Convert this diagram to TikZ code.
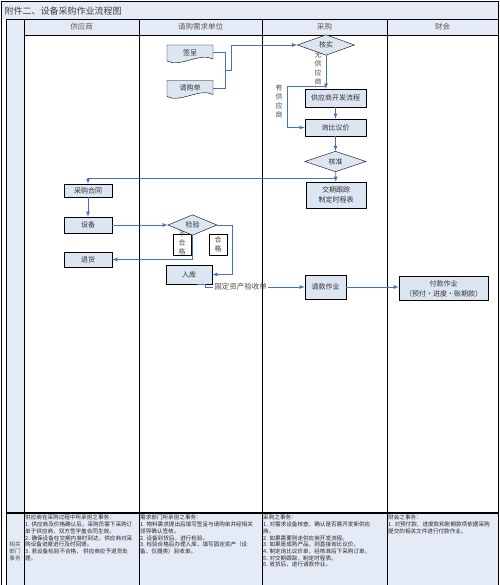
\documentclass[tikz,border=0pt]{standalone}
\usepackage{fontspec}
\setmainfont{Noto Sans CJK SC}
\usepackage{xcolor}
\usepackage{tikz}
\usetikzlibrary{positioning,shapes.geometric}
\XeTeXlinebreaklocale "zh"
\XeTeXlinebreakskip=0pt plus 1pt

\definecolor{paleblue}{RGB}{228,235,246}
\definecolor{boxblue}{RGB}{220,229,242}
\definecolor{lineblue}{RGB}{70,114,196}

\begin{document}
\begin{tikzpicture}[x=1pt,y=-1pt,font=\fontsize{7}{10}\selectfont]
	\tikzset{box/.style={draw,fill=boxblue,text=black!80,inner sep=1pt,align=center,minimum width=48pt}}
	\tikzset{choice/.style={diamond,draw,fill=boxblue,text=black!80,inner sep=0pt}}
	\tikzset{doc/.style={inner sep=0pt,minimum width=46pt,minimum height=15pt,text=black!80}}
	\tikzset{gate/.style={draw,fill=white,minimum width=18pt,minimum height=21pt,inner sep=0pt,align=center,text=black!75,font=\fontsize{7}{9}\selectfont}}
	\tikzset{vtext/.style={align=center,inner sep=0pt,text=black!70,font=\fontsize{7}{9}\selectfont}}
	\tikzset{flow/.style={draw=lineblue,line width=0.8pt,-latex}}
	\tikzset{link/.style={draw=lineblue,line width=0.8pt}}
	\tikzset{lane/.style={text=black!65,font=\fontsize{7.5}{9}\selectfont}}
	\tikzset{duty/.style={anchor=north west,align=left,inner sep=0pt,text=black!85,font=\fontsize{5.6}{6.7}\selectfont}}

	\useasboundingbox (0,0) rectangle (499,585);

% frame and lanes
	\fill[paleblue] (1,2) rectangle (498,19);
	\fill[paleblue] (6,19) rectangle (498,35);
	\fill[paleblue] (6,35) rectangle (24,513);
	\fill[paleblue] (6,514) rectangle (498,585);
	\draw[line width=1.2pt] (1,1.5) -- (498,1.5);
	\draw[line width=0.8pt] (1,1) -- (1,585) (498,1) -- (498,585);
	\draw (6,19) -- (498,19) (24,35) -- (498,35);
	\foreach \x in {6,24,139,262,387}
		\draw (\x,19) -- (\x,585);
	\draw[line width=1.2pt] (6,513) -- (498,513);

	\node[anchor=west,text=black!75,font=\fontsize{9}{10}\selectfont] (title) at (1,11) {附件二、设备采购作业流程图};
	\foreach \x/\lbl [count=\i] in {81.5/供应商,200.5/请购需求单位,324.5/采购,442.5/财会}
		\node[lane] (head\i) at (\x,27) {\lbl};

% documents
	\foreach \p in {(190,52.5),(190,88)}
		\draw[fill=boxblue] \p ++(-23,-7.5) -- ++(46,0) -- ++(0,14) .. controls +(-13,-7) and +(13,7) .. ++(-46,2) -- cycle;
	\node[doc] (sign) at (190,52.5) {签呈};
	\node[doc] (req) at (190,88) {请购单};

	\node[vtext] (none) at (318,69) {无\\供\\应\\商};
	\node[vtext] (exist) at (279,101) {有\\供\\应\\商};
	\node[choice,minimum width=57pt,minimum height=16pt] (check) at (326,45) {核实};
	\node[box,minimum width=61pt,minimum height=18pt] (dev) at (335.5,98) {供应商开发流程};
	\node[box,minimum width=61pt,minimum height=17pt] (price) at (335.5,127.5) {询比议价};
	\node[choice,minimum width=61pt,minimum height=14pt] (approve) at (335.5,161.5) {核准};
	\node[box,minimum width=60pt,minimum height=26pt] (track) at (336,195) {交期跟踪\\制定时程表};

	\node[box,minimum height=13pt] (contract) at (88,190.5) {采购合同};
	\node[box,minimum height=16pt] (equip) at (88,225) {设备};
	\node[box,minimum height=15pt] (return) at (88,259.5) {退货};

	\node[gate] (fail) at (182,244.5) {};
	\node[vtext] (failtext) at (182,243) {不\\合\\格};
	\node[gate] (pass) at (218,244.5) {合\\格};
	\node[choice,minimum width=49pt,minimum height=16pt] (inspect) at (192.5,225) {检验};
	\node[box,minimum width=46pt,minimum height=19pt] (store) at (189,274.5) {入库};
	\node[inner sep=1pt,text=black!70,font=\fontsize{7.5}{9}\selectfont] (receipt) at (240.5,287) {固定资产验收单};
	\node[box,minimum width=41pt,minimum height=24pt] (claim) at (325.5,287) {请款作业};
	\node[box,minimum width=89pt,minimum height=24pt] (pay) at (443.5,288.5) {付款作业\\（预付・进度・账期款）};

% connectors
	\coordinate (join) at (225,70);
	\draw[link] (sign.east) -| (join);
	\draw[link] (req.east) -| (join);
	\draw[flow] (join) -- ++(6,0) |- (check.west);
	\coordinate (fork) at (326,86);
	\draw[flow] (check.south) -- (dev.north -| check.south);
	\draw[flow] (fork) -- ++(-39,0) |- (price.west);
	\draw[flow] (dev) -- (price);
	\draw[flow] (price) -- (approve);
	\draw[flow] (approve) -- (track);
	\coordinate (split) at (335.5,178);
	\draw[flow] (split) -| (contract.north);
	\draw[flow] (contract) -- (equip);
	\draw[flow] (equip) -- (inspect);
	\draw[flow] (inspect.south) |- (return.east);
	\draw[flow] (inspect.east) -- ++(15,0) |- (store.east);
	\draw[link] ([xshift=8pt]store.south) -- ++(8,0) |- (receipt.west);
	\draw[flow] (receipt) -- (claim);
	\draw[flow] (claim.east) -- (claim.east -| pay.west);

% duties
	\node[align=center,inner sep=0pt,text=black!70,font=\fontsize{5.6}{7}\selectfont] (dutyhead) at (15,551) {相关\\部门\\事务};
	\node[duty] (duty1) at (25,515) {供应商在采购过程中所承担之事务：\\1. 供应商及价格确认后，采购员需下采购订\\单于供应商，双方签字盖合同生效。\\2. 确保设备在交期内准时到达，供应商对采\\购设备进度进行及时回馈。\\3. 若设备检验不合格，\ 供应商应予退货处\\理。};
	\node[duty] (duty2) at (140,515) {需求部门所承担之事务：\\1. 物料需求提出后填写签呈与请购单并经相关\\领导确认签核。\\2. 设备到货后，进行检验。\\3. 检验合格后办理入库，填写固定资产（设\\备、仪器类）验收单。};
	\node[duty] (duty3) at (263,515) {采购之事务：\\1. 对需求设备核查，确认是否需开发新供应\\商。\\2. 如果需要则走供应商开发流程。\\3. 如果是成熟产品，则直接询比议价。\\4. 制定询比议价单，经核准后下采购订单。\\5. 对交期跟踪，制定时程表。\\6. 收货后，进行请款作业。};
	\node[duty] (duty4) at (388,515) {财会之事务：\\1. 对预付款、进度款和账期款项依据采购\\提交的相关文件进行付款作业。};
\end{tikzpicture}
\end{document}
